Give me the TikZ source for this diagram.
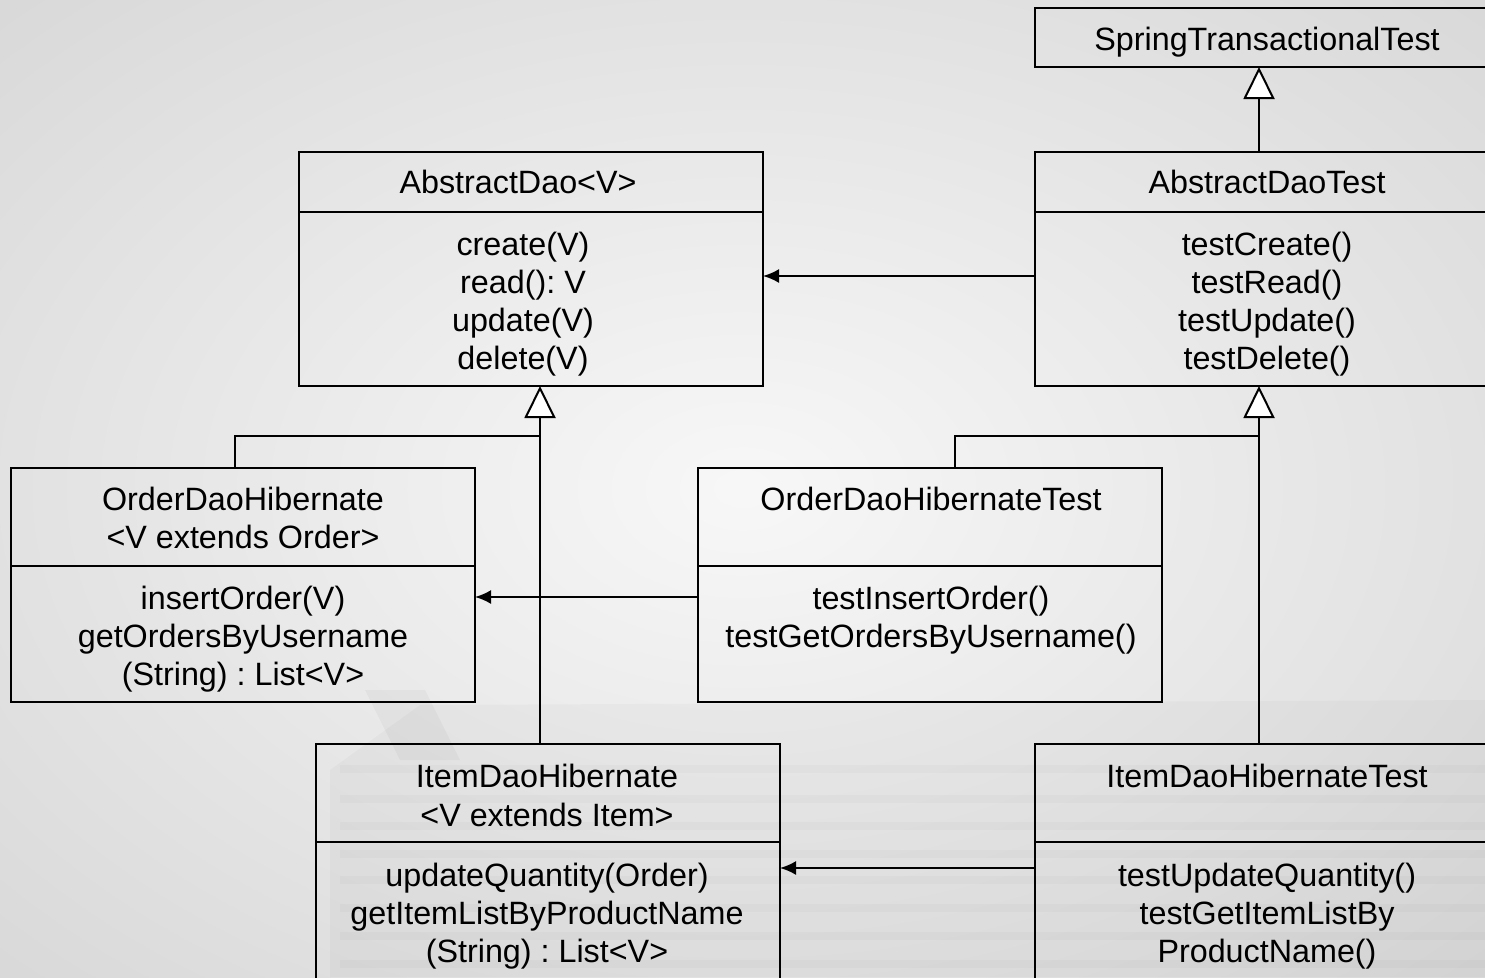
\documentclass[tikz,border=0pt]{standalone}
\usepackage{fontspec}
\setmainfont{Liberation Sans}
\usetikzlibrary{arrows.meta,calc}

\begin{document}
\frenchspacing
\begin{tikzpicture}[x=1pt,y=-1pt,
  box/.style={draw, line width=2pt, minimum width=464pt, anchor=north west, inner sep=0pt, outer sep=0pt},
  divider/.style={line width=2.6pt},
  txt/.style={anchor=base, inner sep=0pt, font=\fontsize{32.3}{38}\selectfont},
  gen/.style={line width=2pt, -{Triangle[length=32pt,width=31pt,fill=white,line width=2pt]}},
  assoc/.style={line width=2pt, -{Latex[length=16pt,width=14pt]}},
  link/.style={line width=2pt}]

\useasboundingbox (0,0) rectangle (1485,977);
\begin{scope}
\clip (0,0) rectangle (1485,977);

% soft grey backdrop with a faint stack of papers
\shade[inner color=white!97!black, outer color=white!85!black] (-300,-200) rectangle (1785,1177);
\fill[black, opacity=0.025] (330,770) -- (420,705) -- (1485,700) -- (1485,977) -- (330,977) -- cycle;
\foreach \yy in {765,795,822,850,876,904,932,960}
  \fill[black, opacity=0.02] (340,\yy) rectangle (1485,\yy+8);
\fill[black, opacity=0.03] (365,690) -- (425,690) -- (460,760) -- (400,760) -- cycle;

% classes
\node[box, minimum height=59pt]  (stt)  at (1035,8)   {};
\node[box, minimum height=234pt] (adt)  at (1035,152) {};
\node[box, minimum height=234pt] (ad)   at (299,152)  {};
\node[box, minimum height=234pt] (odh)  at (11,468)   {};
\node[box, minimum height=234pt] (odht) at (698,468)  {};
\node[box, minimum height=260pt] (idh)  at (316,744)  {};
\node[box, minimum height=260pt] (idht) at (1035,744) {};

% compartment dividers
\draw[divider] ($(adt.north west)+(0,60)$) -- ($(adt.north east)+(0,60)$);
\draw[divider] ($(ad.north west)+(0,60)$) -- ($(ad.north east)+(0,60)$);
\draw[divider] ($(odh.north west)+(0,98)$) -- ($(odh.north east)+(0,98)$);
\draw[divider] ($(odht.north west)+(0,98)$) -- ($(odht.north east)+(0,98)$);
\draw[divider] ($(idh.north west)+(0,98)$) -- ($(idh.north east)+(0,98)$);
\draw[divider] ($(idht.north west)+(0,98)$) -- ($(idht.north east)+(0,98)$);

% SpringTransactionalTest
\node[txt] (stt-n) at (1267,50) {SpringTransactionalTest};

% AbstractDaoTest
\node[txt] (adt-n)  at (1267,193) {AbstractDaoTest};
\node[txt] (adt-m1) at (1267,255) {testCreate()};
\node[txt] (adt-m2) at (1267,293) {testRead()};
\node[txt] (adt-m3) at (1267,331) {testUpdate()};
\node[txt] (adt-m4) at (1267,369) {testDelete()};

% AbstractDao<V>
\node[txt] (ad-n)  at (518,193) {AbstractDao<V>};
\node[txt] (ad-m1) at (523,255) {create(V)};
\node[txt] (ad-m2) at (523,293) {read(): V};
\node[txt] (ad-m3) at (523,331) {update(V)};
\node[txt] (ad-m4) at (523,369) {delete(V)};

% OrderDaoHibernate
\node[txt] (odh-n1) at (243,510) {OrderDaoHibernate};
\node[txt] (odh-n2) at (243,548) {<V extends Order>};
\node[txt] (odh-m1) at (243,609) {insertOrder(V)};
\node[txt] (odh-m2) at (243,647) {getOrdersByUsername};
\node[txt] (odh-m3) at (243,685) {(String) : List<V>};

% OrderDaoHibernateTest
\node[txt] (odht-n)  at (931,510) {OrderDaoHibernateTest};
\node[txt] (odht-m1) at (931,609) {testInsertOrder()};
\node[txt] (odht-m2) at (931,647) {testGetOrdersByUsername()};

% ItemDaoHibernate
\node[txt] (idh-n1) at (547,787) {ItemDaoHibernate};
\node[txt] (idh-n2) at (547,826) {<V extends Item>};
\node[txt] (idh-m1) at (547,886) {updateQuantity(Order)};
\node[txt] (idh-m2) at (547,924) {getItemListByProductName};
\node[txt] (idh-m3) at (547,962) {(String) : List<V>};

% ItemDaoHibernateTest
\node[txt] (idht-n)  at (1267,787) {ItemDaoHibernateTest};
\node[txt] (idht-m1) at (1267,886) {testUpdateQuantity()};
\node[txt] (idht-m2) at (1267,924) {testGetItemListBy};
\node[txt] (idht-m3) at (1267,962) {ProductName()};

% generalizations
\draw[gen] ($(adt.north west)+(224,0)$) -- ($(stt.south west)+(224,0)$);
\draw[gen] ($(idh.north west)+(224,0)$) -- ($(ad.south west)+(241,0)$);
\draw[link] ($(odh.north west)+(224,0)$) |- (540,436);
\draw[gen] ($(idht.north west)+(224,0)$) -- ($(adt.south west)+(224,0)$);
\draw[link] ($(odht.north west)+(257,0)$) |- (1259,436);

% test-to-subject associations
\draw[assoc] ($(adt.north west)+(0,124)$) -- ($(ad.north east)+(0,124)$);
\draw[assoc] ($(odht.north west)+(0,129)$) -- ($(odh.north east)+(0,129)$);
\draw[assoc] ($(idht.north west)+(0,124)$) -- ($(idh.north east)+(0,124)$);
\end{scope}
\end{tikzpicture}
\end{document}
